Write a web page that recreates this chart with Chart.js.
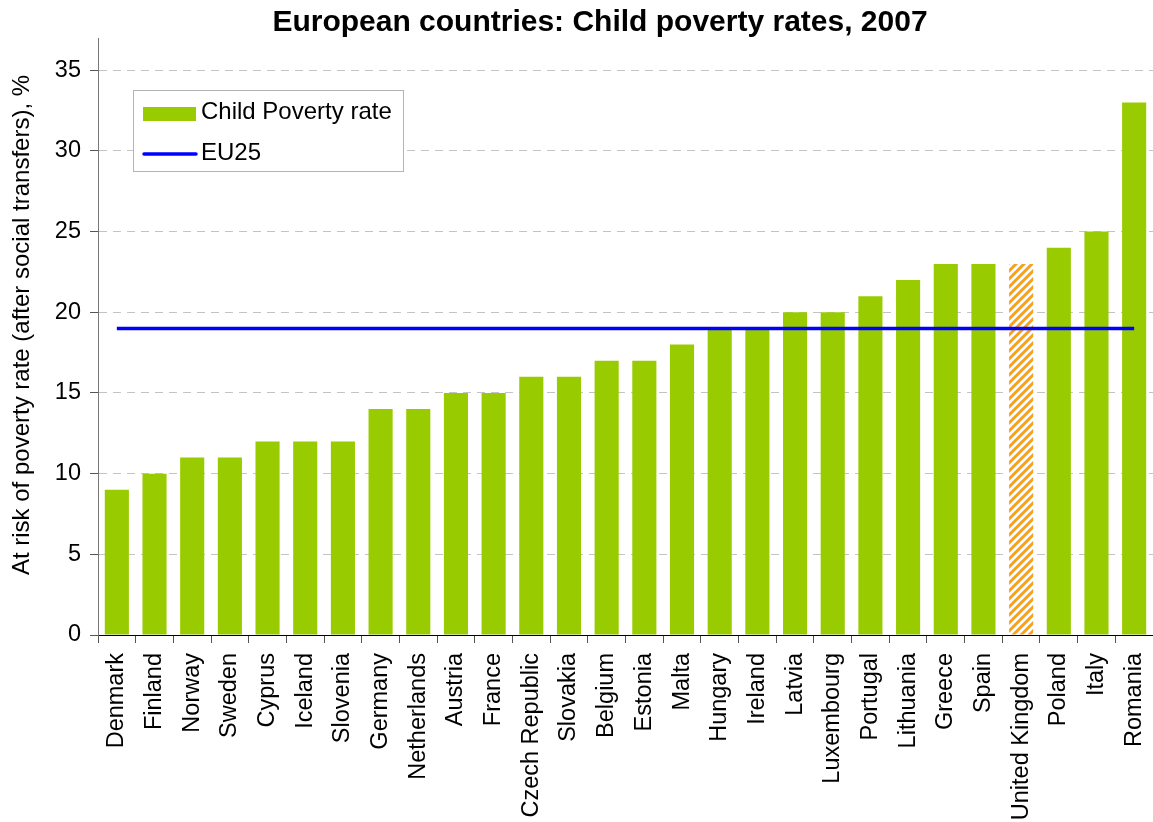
<!DOCTYPE html>
<html>
<head>
<meta charset="utf-8">
<title>European countries: Child poverty rates, 2007</title>
<script src="https://cdn.jsdelivr.net/npm/chart.js@4.4.1/dist/chart.umd.min.js"></script>
<style>
  html, body { margin: 0; padding: 0; background: #fff; }
  #wrap { width: 1153px; height: 822px; }
</style>
</head>
<body>
<div id="wrap"><canvas id="chart" width="1153" height="822"></canvas></div>
<script>
const chartTitle = "European countries: Child poverty rates, 2007";
const yAxisTitle = "At risk of poverty rate (after social transfers), %";
const barLabel = "Child Poverty rate";
const lineLabel = "EU25";

const countries = ["Denmark", "Finland", "Norway", "Sweden", "Cyprus", "Iceland", "Slovenia",
  "Germany", "Netherlands", "Austria", "France", "Czech Republic", "Slovakia", "Belgium",
  "Estonia", "Malta", "Hungary", "Ireland", "Latvia", "Luxembourg", "Portugal", "Lithuania",
  "Greece", "Spain", "United Kingdom", "Poland", "Italy", "Romania"];
const povertyRates = [9, 10, 11, 11, 12, 12, 12, 14, 14, 15, 15, 16, 16, 17, 17, 18, 19, 19,
  20, 20, 21, 22, 23, 23, 23, 24, 25, 33];
const eu25Values = [19, 19, 19, 19, 19, 19, 19, 19, 19, 19, 19, 19, 19, 19, 19, 19, 19, 19,
  19, 19, 19, 19, 19, 19, 19, 19, 19, 19];
const yTicks = [0, 5, 10, 15, 20, 25, 30, 35];
const highlighted = "United Kingdom";

const FONT = "'Liberation Sans', Arial, sans-serif";
const GREEN = "#99cc00";
const BLUE = "#0000ff";

function makeHatch() {
  const c = document.createElement("canvas");
  c.width = 8; c.height = 8;
  const g = c.getContext("2d");
  g.fillStyle = "#ffffff";
  g.fillRect(0, 0, 8, 8);
  g.strokeStyle = "#f9a11b";
  g.lineWidth = 3;
  g.beginPath();
  g.moveTo(-2, 2); g.lineTo(2, -2);
  g.moveTo(-2, 10); g.lineTo(10, -2);
  g.moveTo(6, 10); g.lineTo(10, 6);
  g.stroke();
  return g.createPattern(c, "repeat");
}
const hatch = makeHatch();

// title, axis title and legend drawn by hand so they sit where the original has them
const decorations = {
  id: "decorations",
  afterDraw(chart) {
    const ctx = chart.ctx;
    ctx.save();
    ctx.fillStyle = "#000";
    ctx.font = "bold 30px " + FONT;
    ctx.textAlign = "center";
    ctx.textBaseline = "middle";
    ctx.fillText(chartTitle, 600, 23);

    ctx.save();
    ctx.translate(22, 325);
    ctx.rotate(-Math.PI / 2);
    ctx.font = "24px " + FONT;
    ctx.fillText(yAxisTitle, 0, 0);
    ctx.restore();

    ctx.fillStyle = "#fff";
    ctx.fillRect(133, 90, 270, 81);
    ctx.strokeStyle = "#b4b4b4";
    ctx.lineWidth = 1;
    ctx.strokeRect(133.5, 90.5, 270, 81);

    ctx.fillStyle = GREEN;
    ctx.fillRect(143, 107, 53, 14);
    ctx.strokeStyle = BLUE;
    ctx.lineWidth = 3.5;
    ctx.lineCap = "round";
    ctx.beginPath();
    ctx.moveTo(144, 154);
    ctx.lineTo(196, 154);
    ctx.stroke();

    ctx.fillStyle = "#000";
    ctx.font = "24px " + FONT;
    ctx.textAlign = "left";
    ctx.fillText(barLabel, 201, 112);
    ctx.fillText(lineLabel, 201, 153);
    ctx.restore();
  }
};

new Chart(document.getElementById("chart"), {
  data: {
    labels: countries,
    datasets: [
      {
        type: "line",
        label: lineLabel,
        data: eu25Values,
        borderColor: BLUE,
        borderWidth: 3.5,
        pointRadius: 0,
        fill: false,
        order: 0
      },
      {
        type: "bar",
        label: barLabel,
        data: povertyRates,
        backgroundColor: countries.map(c => c === highlighted ? hatch : GREEN),
        barPercentage: 0.64,
        categoryPercentage: 1,
        order: 1
      }
    ]
  },
  options: {
    responsive: false,
    animation: false,
    layout: { padding: { top: 38, right: 0, left: 0, bottom: 0 } },
    plugins: {
      legend: { display: false },
      title: { display: false },
      tooltip: { enabled: false }
    },
    scales: {
      x: {
        afterFit: s => {
          s.height = 822 - 38 - 597;
          s.paddingLeft = 0;
          s.paddingRight = 0;
        },
        grid: {
          offset: true,
          drawOnChartArea: false,
          tickLength: 8,
          tickColor: "#555"
        },
        border: { color: "#000", width: 1 },
        ticks: {
          autoSkip: false,
          maxRotation: 90,
          minRotation: 90,
          padding: 10,
          color: "#000",
          font: { family: FONT, size: 23.5 }
        }
      },
      y: {
        min: 0,
        max: 37,
        afterFit: s => {
          s.width = 98;
          s.paddingTop = 0;
          s.paddingBottom = 0;
        },
        afterBuildTicks: s => { s.ticks = yTicks.map(v => ({ value: v })); },
        grid: {
          color: c => (c.tick && c.tick.value === 0) ? "rgba(0,0,0,0)" : "#c4c4c4",
          tickColor: "#555",
          tickLength: 8
        },
        border: { color: "#777", width: 1, dash: [8, 6] },
        ticks: {
          color: "#000",
          padding: 9,
          font: { family: FONT, size: 23.5 }
        }
      }
    }
  },
  plugins: [decorations]
});
</script>
</body>
</html>
